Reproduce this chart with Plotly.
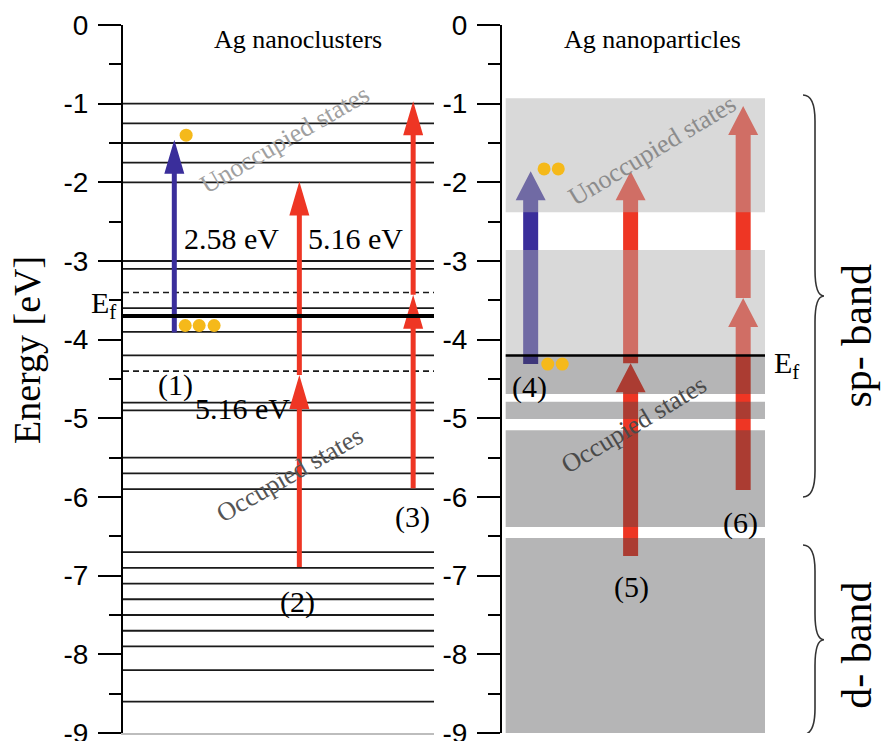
import plotly.graph_objects as go

# ---------------- data ----------------
y_tick_vals = [0, -1, -2, -3, -4, -5, -6, -7, -8, -9]
y_tick_text = ["0", "-1", "-2", "-3", "-4", "-5", "-6", "-7", "-8", "-9"]
y_minor_vals = [-0.5, -1.5, -2.5, -3.5, -4.5, -5.5, -6.5, -7.5, -8.5]

# Ag nanoclusters: discrete levels (eV)
cluster_levels = [-1.0, -1.25, -1.5, -1.75, -2.0, -3.0, -3.1, -3.6, -3.9, -4.2,
                  -4.8, -4.9, -5.5, -5.7, -5.9, -6.7, -6.9, -7.1, -7.3, -7.5,
                  -7.7, -7.9, -8.2, -8.6]
cluster_dashed = [-3.4, -4.4]
cluster_ef = -3.7

# Ag nanoparticles: continuous bands (eV)
np_ef = -4.2
np_unocc_top = [-0.93, -2.86]
np_unocc_bot = [-2.38, -4.2]
np_occ_top = [-4.2, -4.79, -5.15, -6.52]
np_occ_bot = [-4.69, -5.01, -6.38, -9.0]
np_band_x = [0.014, 1.0]

# transitions (arrows): position, start, end, colour
cl_arrow_x = [0.165, 0.567, 0.567, 0.933, 0.933]
cl_arrow_from = [-3.91, -6.89, -4.45, -5.89, -3.43]
cl_arrow_to = [-1.46, -4.45, -1.99, -3.43, -0.97]
cl_arrow_col = ["blue", "red", "red", "red", "red"]

np_arrow_x = [0.109, 0.489, 0.489, 0.917, 0.917]
np_arrow_from = [-4.31, -6.75, -4.30, -5.91, -3.47]
np_arrow_to = [-1.86, -4.30, -1.86, -3.47, -1.03]
np_arrow_col = ["blue", "red", "red", "red", "red"]

# electrons
cl_dot_x = [0.203, 0.200, 0.245, 0.293]
cl_dot_y = [-1.40, -3.82, -3.82, -3.82]
np_dot_x = [0.160, 0.214, 0.174, 0.229]
np_dot_y = [-1.83, -1.83, -4.31, -4.31]

# braces
brace_top = [-0.89, -6.61]
brace_bot = [-6.0, -9.02]
brace_label = ["sp- band", "d- band"]
brace_label_y = [-3.96, -7.89]

# ---------------- layout constants ----------------
W, H = 881, 741
M_T, M_B = 25, 8
PLOT_H = H - M_T - M_B
L_PX = (123, 434)
R_PX = (502, 765)
YPX = PLOT_H / 9.0

COLORS = {"blue": "rgb(58,46,155)", "red": "rgb(238,54,36)"}
SERIF = "Liberation Serif, Times New Roman, serif"
SANS = "Liberation Sans, Arial, sans-serif"


def arrow_poly(xc, y0, y1, shaft_px, head_w_px, head_len_px, xpx):
    sw = shaft_px / 2 / xpx
    hw = head_w_px / 2 / xpx
    hl = head_len_px / YPX
    yb = y1 - hl
    xs = [xc - sw, xc - sw, xc - hw, xc, xc + hw, xc + sw, xc + sw, xc - sw]
    ys = [y0, yb, yb, y1, yb, yb, y0, y0]
    return xs, ys


fig = go.Figure()

# ---- left panel: levels ----
lx, ly = [], []
for v in cluster_levels:
    lx += [0, 1, None]
    ly += [v, v, None]
fig.add_trace(go.Scatter(x=lx, y=ly, mode="lines", line=dict(color="#1a1a1a", width=1.8),
                         xaxis="x", yaxis="y", hoverinfo="skip"))
dx, dy = [], []
for v in cluster_dashed:
    dx += [0, 1, None]
    dy += [v, v, None]
fig.add_trace(go.Scatter(x=dx, y=dy, mode="lines",
                         line=dict(color="#1a1a1a", width=1.6, dash="6px,4px"),
                         xaxis="x", yaxis="y", hoverinfo="skip"))

# left arrows
lxpx = L_PX[1] - L_PX[0]
for xc, a, b, c in zip(cl_arrow_x, cl_arrow_from, cl_arrow_to, cl_arrow_col):
    xs, ys = arrow_poly(xc, a, b, 5, 20, 34, lxpx)
    fig.add_trace(go.Scatter(x=xs, y=ys, mode="lines", fill="toself", fillcolor=COLORS[c],
                             line=dict(width=0, color=COLORS[c]), xaxis="x", yaxis="y",
                             hoverinfo="skip"))

# left Fermi level
fig.add_trace(go.Scatter(x=[0, 1], y=[cluster_ef, cluster_ef], mode="lines",
                         line=dict(color="black", width=4), xaxis="x", yaxis="y",
                         hoverinfo="skip"))
fig.add_trace(go.Scatter(x=cl_dot_x, y=cl_dot_y, mode="markers",
                         marker=dict(size=13, color="#f5b91a"), xaxis="x", yaxis="y",
                         hoverinfo="skip"))

# ---- right panel ----
rxpx = R_PX[1] - R_PX[0]
for xc, a, b, c in zip(np_arrow_x, np_arrow_from, np_arrow_to, np_arrow_col):
    xs, ys = arrow_poly(xc, a, b, 15, 30, 29, rxpx)
    fig.add_trace(go.Scatter(x=xs, y=ys, mode="lines", fill="toself", fillcolor=COLORS[c],
                             line=dict(width=0, color=COLORS[c]), xaxis="x2", yaxis="y2",
                             hoverinfo="skip"))


def band_trace(t, b, color):
    x0, x1 = np_band_x
    return go.Scatter(x=[x0, x1, x1, x0, x0], y=[t, t, b, b, t], mode="lines",
                      fill="toself", fillcolor=color, line=dict(width=0, color=color),
                      xaxis="x2", yaxis="y2", hoverinfo="skip")


for t, b in zip(np_unocc_top, np_unocc_bot):
    fig.add_trace(band_trace(t, b, "rgba(175,175,175,0.47)"))
for t, b in zip(np_occ_top, np_occ_bot):
    fig.add_trace(band_trace(t, b, "rgba(70,70,72,0.40)"))

fig.add_trace(go.Scatter(x=np_band_x, y=[np_ef, np_ef], mode="lines",
                         line=dict(color="black", width=2.5), xaxis="x2", yaxis="y2",
                         hoverinfo="skip"))
fig.add_trace(go.Scatter(x=np_dot_x, y=np_dot_y, mode="markers",
                         marker=dict(size=13, color="#f5b91a"), xaxis="x2", yaxis="y2",
                         hoverinfo="skip"))

# ---------------- axes ----------------
yax = dict(range=[-9, 0], tickmode="array", tickvals=y_tick_vals, ticktext=y_tick_text,
           ticks="outside", ticklen=23, tickwidth=2, tickcolor="black",
           showline=True, linewidth=2, linecolor="black", showgrid=False, zeroline=False,
           tickfont=dict(family=SANS, size=28, color="black"), ticklabelstandoff=4,
           ticklabeloverflow="allow",
           minor=dict(tickmode="array", tickvals=y_minor_vals, ticks="outside", ticklen=12,
                      tickwidth=2, tickcolor="black", showgrid=False),
           automargin=False, domain=[0, 1])

fig.update_layout(
    width=W, height=H, margin=dict(l=0, r=0, t=M_T, b=M_B),
    paper_bgcolor="white", plot_bgcolor="white", showlegend=False,
    xaxis=dict(domain=[L_PX[0] / W, L_PX[1] / W], range=[0, 1], showgrid=False,
               zeroline=False, showticklabels=False, ticks="", showline=True,
               linecolor="#bdbdbd", linewidth=1.5, anchor="y", automargin=False),
    xaxis2=dict(domain=[R_PX[0] / W, R_PX[1] / W], range=[0, 1], showgrid=False,
                zeroline=False, showticklabels=False, ticks="", showline=False,
                anchor="y2", automargin=False),
    yaxis=dict(anchor="x", **yax),
    yaxis2=dict(anchor="x2", **yax),
)

# ---------------- annotations ----------------
ann = []


def txt(text, x, y, xref, yref, size, color="black", angle=0, xanchor="center",
        yanchor="middle", family=SERIF):
    ann.append(dict(text=text, x=x, y=y, xref=xref, yref=yref, showarrow=False,
                    font=dict(family=family, size=size, color=color), textangle=angle,
                    xanchor=xanchor, yanchor=yanchor))


txt("Ag nanoclusters", 0.563, -0.19, "x", "y", 26)
txt("Ag nanoparticles", 0.574, -0.19, "x2", "y2", 26)
txt("Unoccupied states", 0.52, -1.46, "x", "y", 26, "#a0a0a0", -30)
txt("Occupied states", 0.537, -5.72, "x", "y", 26, "#555555", -30)
txt("Unoccupied states", 0.57, -1.59, "x2", "y2", 26, "#8c8c8c", -31)
txt("Occupied states", 0.502, -5.08, "x2", "y2", 26, "#4a4a4a", -31)
txt("2.58 eV", 0.35, -2.71, "x", "y", 30)
txt("5.16 eV", 0.749, -2.71, "x", "y", 30)
txt("5.16 eV", 0.383, -4.87, "x", "y", 30)
txt("(1)", 0.17, -4.57, "x", "y", 30)
txt("(2)", 0.56, -7.34, "x", "y", 30)
txt("(3)", 0.932, -6.26, "x", "y", 30)
txt("(4)", 0.103, -4.60, "x2", "y2", 30)
txt("(5)", 0.494, -7.14, "x2", "y2", 30)
txt("(6)", 0.905, -6.33, "x2", "y2", 30)
txt("E<sub>f</sub>", 118 / W, -3.56, "paper", "y", 30, xanchor="right")
txt("E<sub>f</sub>", 772 / W, -4.32, "paper", "y2", 30, xanchor="left")
txt("Energy [eV]", 27 / W, (H - M_B - 350) / PLOT_H, "paper", "paper", 38, angle=-90)
for lab, ly_ in zip(brace_label, brace_label_y):
    txt(lab, 857 / W, ly_, "paper", "y2", 42, angle=-90)

fig.update_layout(annotations=ann)

# braces
xh, xl, xt = 803 / W, 815 / W, 824 / W
r = 0.33
shapes = []
for t, b in zip(brace_top, brace_bot):
    m = (t + b) / 2
    path = (f"M {xh},{t} Q {xl},{t} {xl},{t - r} L {xl},{m + r} "
            f"Q {xl},{m} {xt},{m} Q {xl},{m} {xl},{m - r} L {xl},{b + r} "
            f"Q {xl},{b} {xh},{b}")
    shapes.append(dict(type="path", path=path, xref="paper", yref="y2",
                       line=dict(color="#333333", width=1.6)))
fig.update_layout(shapes=shapes)

fig.write_html("out.html")
